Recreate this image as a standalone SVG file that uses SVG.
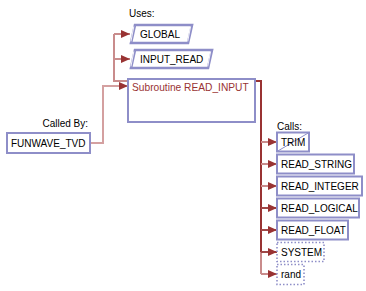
<svg xmlns="http://www.w3.org/2000/svg" width="366" height="291" viewBox="0 0 366 291">
  <style>
    text { font-family: "Liberation Sans", Arial, sans-serif; font-size: 10px; fill: #000; }
    .title { fill: #993333; font-size: 10.2px; }
    .box { fill: #fff; stroke: #8e8ec8; stroke-width: 2; }
    .ext { fill: #fff; stroke: #8e8ec8; stroke-width: 1.6; stroke-dasharray: 1.5 2; }
    .mod { fill: #fff; stroke: #8e8ec8; stroke-width: 2.6; }
    .modin { fill: none; stroke: #fff; stroke-width: 0.9; }
    .trunk { fill: none; stroke: #993333; stroke-width: 2; }
    .branch { fill: none; stroke: #c98c8c; stroke-width: 2; }
    .dark { stroke: #a04848; }
  </style>
  <defs>
    <marker id="ah" markerWidth="9" markerHeight="8" refX="9" refY="4" orient="auto" markerUnits="userSpaceOnUse">
      <path d="M0,0 L9,4 L0,8 z" fill="#993333"/>
    </marker>
  </defs>

  <!-- section captions -->
  <text x="129" y="17">Uses:</text>
  <text x="88" y="127" text-anchor="end">Called By:</text>
  <text x="277" y="130">Calls:</text>

  <!-- connectors -->
  <g id="connectors">
    <!-- uses -->
    <polyline class="branch" points="128,81 114,81 114,34"/>
    <line class="branch" x1="114" y1="34" x2="130" y2="34" marker-end="url(#ah)"/>
    <line class="branch" x1="114" y1="59" x2="130" y2="59" marker-end="url(#ah)"/>
    <!-- called by -->
    <polyline class="branch" style="stroke:#d4a0a0" points="90,143 103,143 103,86 128,86" marker-end="url(#ah)"/>
    <!-- calls -->
    <polyline class="trunk" points="255,81 261,81 261,252"/>
    <line class="branch" x1="261" y1="252" x2="261" y2="274"/>
    <line class="branch" x1="261" y1="142" x2="277" y2="142" marker-end="url(#ah)"/>
    <line class="branch" x1="261" y1="164" x2="277" y2="164" marker-end="url(#ah)"/>
    <line class="branch" x1="261" y1="186" x2="277" y2="186" marker-end="url(#ah)"/>
    <line class="branch dark" x1="261" y1="208" x2="277" y2="208" marker-end="url(#ah)"/>
    <line class="branch dark" x1="261" y1="230" x2="277" y2="230" marker-end="url(#ah)"/>
    <line class="branch dark" x1="261" y1="252" x2="277" y2="252" marker-end="url(#ah)"/>
    <line class="branch" x1="261" y1="274" x2="277" y2="274" marker-end="url(#ah)"/>
  </g>

  <!-- used modules -->
  <g id="GLOBAL">
    <polygon class="mod" points="135,25 192,25 188,43 131,43"/>
    <line class="modin" x1="133.8" y1="26.5" x2="130.9" y2="41.5"/>
    <line class="modin" x1="190.6" y1="26.5" x2="187.7" y2="41.5"/>
    <text x="140" y="38">GLOBAL</text>
  </g>
  <g id="INPUT_READ">
    <polygon class="mod" points="135,50 212,50 208,68 131,68"/>
    <line class="modin" x1="133.8" y1="51.5" x2="130.9" y2="66.5"/>
    <line class="modin" x1="210.6" y1="51.5" x2="207.7" y2="66.5"/>
    <text x="140" y="63">INPUT_READ</text>
  </g>

  <!-- subject -->
  <g id="READ_INPUT">
    <rect class="box" x="128" y="79" width="127" height="43"/>
    <text class="title" x="132" y="91">Subroutine READ_INPUT</text>
  </g>

  <!-- caller -->
  <g id="FUNWAVE_TVD">
    <rect class="box" x="7" y="133" width="83" height="20"/>
    <text x="11" y="147">FUNWAVE_TVD</text>
  </g>

  <!-- callees -->
  <g id="TRIM">
    <rect class="box" x="277" y="132.5" width="32" height="19"/>
    <line x1="277" y1="151.5" x2="309" y2="132.5" stroke="#8e8ec8" stroke-width="1"/>
    <text x="281" y="145.5">TRIM</text>
  </g>
  <g id="READ_STRING">
    <rect class="box" x="277" y="154.5" width="77" height="19"/>
    <text x="281" y="167.5">READ_STRING</text>
  </g>
  <g id="READ_INTEGER">
    <rect class="box" x="277" y="176.5" width="85" height="19"/>
    <text x="281" y="189.5">READ_INTEGER</text>
  </g>
  <g id="READ_LOGICAL">
    <rect class="box" x="277" y="198.5" width="82" height="19"/>
    <text x="281" y="211.5">READ_LOGICAL</text>
  </g>
  <g id="READ_FLOAT">
    <rect class="box" x="277" y="220.5" width="71" height="19"/>
    <text x="281" y="233.5">READ_FLOAT</text>
  </g>
  <g id="SYSTEM">
    <rect class="ext" x="277" y="242.5" width="47" height="19"/>
    <text x="281" y="255.5">SYSTEM</text>
  </g>
  <g id="rand">
    <rect class="ext" x="277" y="264.5" width="27" height="20"/>
    <text x="281" y="277.5">rand</text>
  </g>
</svg>
